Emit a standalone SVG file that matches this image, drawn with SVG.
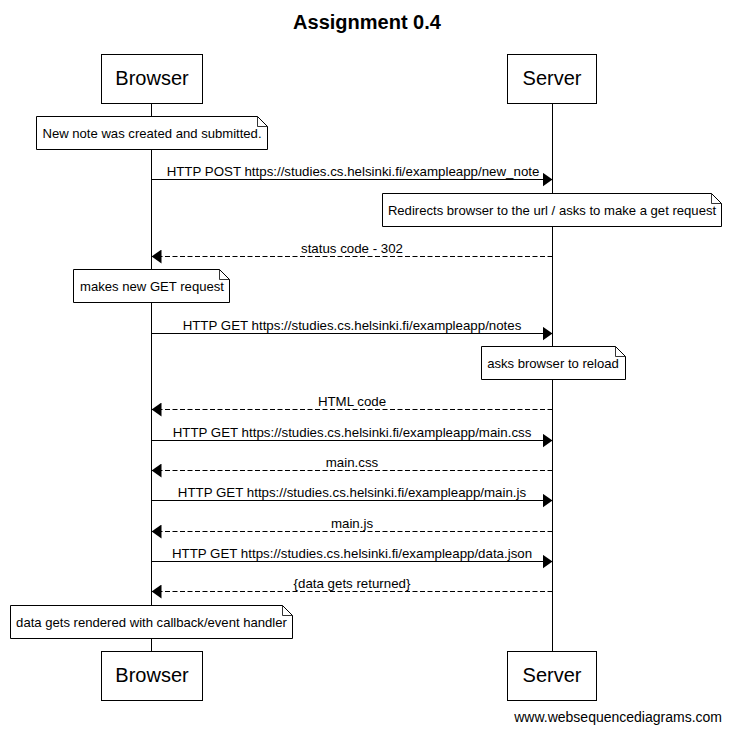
<svg xmlns="http://www.w3.org/2000/svg" width="732" height="734" viewBox="0 0 732 734">
  <style>
    text { font-family: "Liberation Sans", Arial, sans-serif; fill: #000; }
    .title { font-size: 20px; font-weight: bold; text-anchor: middle; }
    .actor rect { fill: #fff; stroke: #000; stroke-width: 1; }
    .actor text { font-size: 20px; text-anchor: middle; }
    .life { stroke: #000; stroke-width: 1; fill: none; }
    .note path.body { fill: #fff; stroke: #000; stroke-width: 1; }
    .note path.fold { fill: none; stroke: #000; stroke-width: 0.8; }
    .note text { font-size: 13.1px; text-anchor: middle; }
    .msg line { stroke: #000; stroke-width: 1; marker-end: url(#head); }
    .msg line.reply { stroke-dasharray: 5 2.5; }
    .msg text { font-size: 13.3px; text-anchor: middle; }
    .credit { font-size: 14px; text-anchor: end; }
  </style>
  <defs>
    <marker id="head" viewBox="0 0 10 14" refX="10" refY="7" markerWidth="10" markerHeight="14" markerUnits="userSpaceOnUse" orient="auto">
      <path d="M0,0 L10,7 L0,14 Z" fill="#000"/>
    </marker>
  </defs>

  <rect width="732" height="734" fill="#fff"/>
  <text class="title" x="367" y="29">Assignment 0.4</text>

  <!-- lifelines -->
  <g id="lifelines">
    <line class="life" x1="151.5" y1="103.5" x2="151.5" y2="651.5"/>
    <line class="life" x1="552.5" y1="103.5" x2="552.5" y2="651.5"/>
  </g>

  <!-- participants, top and bottom -->
  <g id="browser" class="actor">
    <rect x="101.5" y="54.5" width="101" height="49"/>
    <text x="152" y="85">Browser</text>
    <rect x="101.5" y="651.5" width="101" height="49"/>
    <text x="152" y="682">Browser</text>
  </g>
  <g id="server" class="actor">
    <rect x="507.5" y="54.5" width="89" height="49"/>
    <text x="552" y="85">Server</text>
    <rect x="507.5" y="651.5" width="89" height="49"/>
    <text x="552" y="682">Server</text>
  </g>

  <!-- messages -->
  <g id="messages" class="msg">
    <line x1="151.5" y1="179.5" x2="552.5" y2="179.5"/>
    <text x="353" y="175.5">HTTP POST https://studies.cs.helsinki.fi/exampleapp/new_note</text>

    <line class="reply" x1="552.5" y1="256.5" x2="151.5" y2="256.5"/>
    <text x="352" y="252.5">status code - 302</text>

    <line x1="151.5" y1="333.5" x2="552.5" y2="333.5"/>
    <text x="352" y="329.5">HTTP GET https://studies.cs.helsinki.fi/exampleapp/notes</text>

    <line class="reply" x1="552.5" y1="409.5" x2="151.5" y2="409.5"/>
    <text x="352" y="405.5">HTML code</text>

    <line x1="151.5" y1="440.5" x2="552.5" y2="440.5"/>
    <text x="352" y="436.5">HTTP GET https://studies.cs.helsinki.fi/exampleapp/main.css</text>

    <line class="reply" x1="552.5" y1="470.5" x2="151.5" y2="470.5"/>
    <text x="352" y="466.5">main.css</text>

    <line x1="151.5" y1="500.5" x2="552.5" y2="500.5"/>
    <text x="352" y="496.5">HTTP GET https://studies.cs.helsinki.fi/exampleapp/main.js</text>

    <line class="reply" x1="552.5" y1="531.5" x2="151.5" y2="531.5"/>
    <text x="352" y="527.5">main.js</text>

    <line x1="151.5" y1="561.5" x2="552.5" y2="561.5"/>
    <text x="352" y="557.5">HTTP GET https://studies.cs.helsinki.fi/exampleapp/data.json</text>

    <line class="reply" x1="552.5" y1="591.5" x2="151.5" y2="591.5"/>
    <text x="352" y="587.5">{data gets returned}</text>
  </g>

  <!-- notes -->
  <g id="note-created" class="note">
    <path class="body" d="M36.5,116.5 H257.5 L267.5,126.5 V149.5 H36.5 Z"/>
    <path class="fold" d="M257.5,116.5 V126.5 H267.5"/>
    <text x="152" y="137.5">New note was created and submitted.</text>
  </g>
  <g id="note-redirect" class="note">
    <path class="body" d="M382.5,193.5 H711.5 L721.5,203.5 V226.5 H382.5 Z"/>
    <path class="fold" d="M711.5,193.5 V203.5 H721.5"/>
    <text x="552" y="214.5">Redirects browser to the url / asks to make a get request</text>
  </g>
  <g id="note-get" class="note">
    <path class="body" d="M73.5,269.5 H219.5 L229.5,279.5 V302.5 H73.5 Z"/>
    <path class="fold" d="M219.5,269.5 V279.5 H229.5"/>
    <text x="152" y="290.5">makes new GET request</text>
  </g>
  <g id="note-reload" class="note">
    <path class="body" d="M481.5,346.5 H615.5 L625.5,356.5 V379.5 H481.5 Z"/>
    <path class="fold" d="M615.5,346.5 V356.5 H625.5"/>
    <text x="553" y="367.5">asks browser to reload</text>
  </g>
  <g id="note-render" class="note">
    <path class="body" d="M10.5,605.5 H282.5 L292.5,615.5 V638.5 H10.5 Z"/>
    <path class="fold" d="M282.5,605.5 V615.5 H292.5"/>
    <text x="151.5" y="626.5">data gets rendered with callback/event handler</text>
  </g>

  <text class="credit" x="722" y="722">www.websequencediagrams.com</text>
</svg>
